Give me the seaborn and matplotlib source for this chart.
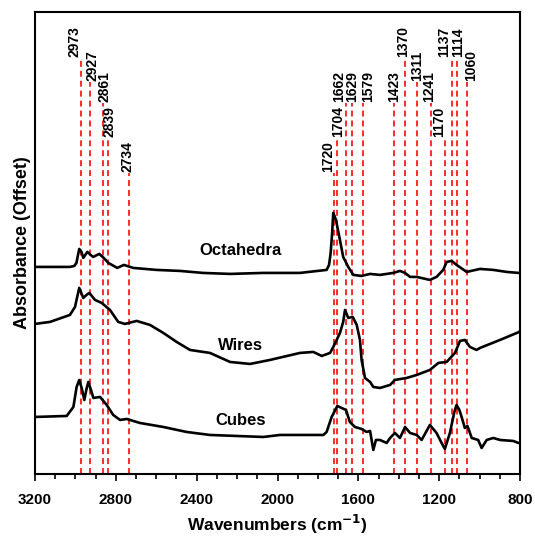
import numpy as np
import pandas as pd
import matplotlib
matplotlib.use("Agg")
import matplotlib.pyplot as plt
import seaborn as sns
from matplotlib.ticker import MultipleLocator

# FTIR spectra (wavenumber in cm-1, absorbance with vertical offset)
wn_oct = [3200, 3027, 3005, 2995, 2981, 2970, 2961, 2941, 2925, 2912, 2882, 2860, 2837, 2793,
          2760, 2714, 2598, 2483, 2369, 2235, 2070, 1988, 1889, 1757, 1745, 1737, 1730, 1724,
          1718, 1711, 1694, 1675, 1650, 1625, 1584, 1542, 1493, 1427, 1394, 1369, 1344, 1311,
          1246, 1213, 1180, 1163, 1138, 1114, 1064, 998, 932, 866, 808, 800]
abs_oct = [2.07, 2.07, 2.08, 2.11, 2.25, 2.22, 2.16, 2.22, 2.19, 2.17, 2.20, 2.16, 2.11, 2.06,
           2.09, 2.06, 2.04, 2.03, 2.01, 2.00, 2.01, 2.01, 2.01, 2.04, 2.09, 2.21, 2.40, 2.61,
           2.58, 2.54, 2.37, 2.17, 2.07, 1.99, 1.98, 2.00, 1.99, 2.01, 2.03, 2.01, 1.97, 1.97,
           1.94, 1.97, 2.04, 2.12, 2.13, 2.09, 2.02, 2.05, 2.04, 2.02, 2.01, 2.01]

wn_wir = [3200, 3126, 3027, 3002, 2990, 2981, 2961, 2945, 2931, 2903, 2870, 2829, 2788, 2755,
          2697, 2631, 2565, 2499, 2433, 2334, 2235, 2136, 2037, 1889, 1823, 1781, 1740, 1724,
          1705, 1691, 1675, 1666, 1650, 1628, 1608, 1592, 1584, 1567, 1542, 1526, 1493, 1443,
          1419, 1361, 1311, 1246, 1204, 1163, 1122, 1097, 1073, 1048, 1015, 998, 899, 804, 800]
abs_wir = [1.50, 1.52, 1.59, 1.67, 1.78, 1.86, 1.76, 1.79, 1.81, 1.74, 1.71, 1.64, 1.52, 1.50,
           1.53, 1.49, 1.41, 1.32, 1.24, 1.21, 1.12, 1.10, 1.14, 1.21, 1.22, 1.18, 1.21, 1.27,
           1.35, 1.41, 1.52, 1.64, 1.56, 1.57, 1.49, 1.34, 1.14, 0.96, 0.92, 0.87, 0.86, 0.89,
           0.94, 0.96, 0.99, 1.04, 1.11, 1.12, 1.21, 1.33, 1.34, 1.27, 1.24, 1.26, 1.34, 1.42,
           1.43]

wn_cub = [3200, 3043, 3010, 2994, 2981, 2968, 2956, 2945, 2936, 2923, 2911, 2878, 2845, 2813,
          2779, 2746, 2681, 2565, 2450, 2334, 2202, 2070, 1988, 1889, 1773, 1757, 1732, 1704,
          1683, 1661, 1642, 1617, 1584, 1559, 1542, 1526, 1513, 1493, 1460, 1443, 1419, 1394,
          1369, 1344, 1311, 1287, 1246, 1213, 1188, 1172, 1147, 1125, 1114, 1100, 1089, 1073,
          1060, 1039, 1007, 990, 965, 932, 899, 833, 808, 800]
abs_cub = [0.57, 0.58, 0.67, 0.87, 0.94, 0.85, 0.74, 0.85, 0.92, 0.84, 0.76, 0.77, 0.69, 0.59,
           0.54, 0.55, 0.51, 0.47, 0.42, 0.39, 0.38, 0.37, 0.39, 0.39, 0.39, 0.42, 0.57, 0.68,
           0.66, 0.64, 0.52, 0.47, 0.45, 0.42, 0.43, 0.24, 0.34, 0.34, 0.31, 0.36, 0.41, 0.36,
           0.47, 0.41, 0.39, 0.34, 0.49, 0.41, 0.31, 0.25, 0.41, 0.62, 0.69, 0.64, 0.57, 0.46,
           0.48, 0.36, 0.34, 0.26, 0.34, 0.36, 0.34, 0.33, 0.31, 0.31]

# Assigned band positions, marker-line heights (label tiers) and label nudges (px)
peaks = [2973, 2927, 2861, 2839, 2734, 1720, 1704, 1662, 1629, 1579,
         1423, 1370, 1311, 1241, 1170, 1137, 1114, 1060]
peak_tops = [4.16, 3.92, 3.71, 3.36, 3.01, 3.01, 3.36, 3.71, 3.71, 3.71,
             3.71, 4.16, 3.92, 3.71, 3.36, 4.16, 4.16, 3.92]
label_dx = [-6, 2, 1.5, 2, -1.5, -5.5, 1, -7, 0, 5.5,
            0, -2, 0, -1.5, -6.5, -8, 1.5, 3.5]

sample_names = ["Octahedra", "Wires", "Cubes"]
name_pos = [(2181, 2.23), (2181, 1.28), (2181, 0.53)]

sns.set_style("ticks")
plt.rcParams["font.family"] = ["Liberation Sans", "DejaVu Sans"]
plt.rcParams["font.weight"] = "bold"
plt.rcParams["text.color"] = "black"
plt.rcParams["axes.labelcolor"] = "black"
plt.rcParams["xtick.color"] = "black"

fig = plt.figure(figsize=(5.35, 5.38), dpi=100)
ax = fig.add_axes([0.0654, 0.119, 0.9066, 0.859])

# dashed marker lines behind the spectra
for p, top, dx in zip(peaks, peak_tops, label_dx):
    ax.plot([p, p], [0, top], color="#ff1a1a", lw=1.3,
            linestyle=(0, (3.3, 2.2)), zorder=1)
    ax.annotate(str(p), xy=(p, top), xytext=(dx, 1), textcoords="offset pixels",
                rotation=90, ha="center", va="bottom",
                fontsize=10, fontweight="bold", color="black")

spectra = pd.concat([
    pd.DataFrame({"wn": wn_oct, "A": abs_oct, "sample": "Octahedra"}),
    pd.DataFrame({"wn": wn_wir, "A": abs_wir, "sample": "Wires"}),
    pd.DataFrame({"wn": wn_cub, "A": abs_cub, "sample": "Cubes"}),
])
sns.lineplot(data=spectra, x="wn", y="A", units="sample", estimator=None,
             sort=False, color="black", lw=1.9, ax=ax, zorder=3)

for name, (x, y) in zip(sample_names, name_pos):
    ax.text(x, y, name, ha="center", va="center", fontsize=12, fontweight="bold")

ax.set_xlim(3200, 800)
ax.set_ylim(0, 4.62)
ax.xaxis.set_major_locator(MultipleLocator(400))
ax.xaxis.set_minor_locator(MultipleLocator(100))
ax.set_yticks([])
ax.tick_params(axis="x", which="major", direction="out", length=5, width=1.2,
               labelsize=11, pad=9)
ax.tick_params(axis="x", which="minor", direction="out", length=3.5, width=1.2)
for lbl in ax.get_xticklabels():
    lbl.set_fontweight("bold")
for s in ax.spines.values():
    s.set_linewidth(1.5)
    s.set_color("black")

ax.set_xlabel("Wavenumbers (cm$^{\\mathbf{-1}}$)", fontsize=12.5, fontweight="bold", labelpad=4)
ax.set_ylabel("Absorbance (Offset)", fontsize=13, fontweight="bold", labelpad=3)

fig.savefig("out.png", dpi=100)
